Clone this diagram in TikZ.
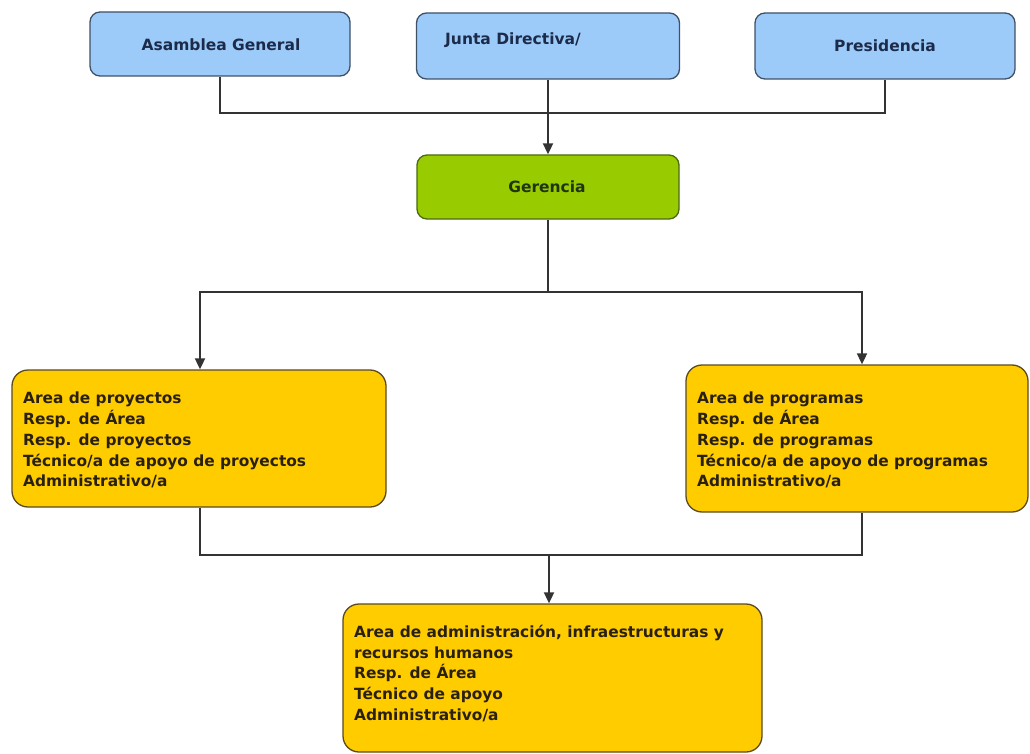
\documentclass[tikz,border=0pt]{standalone}
\usepackage{fontspec}
\setmainfont{DejaVu Sans}
\usetikzlibrary{arrows.meta,calc}
\definecolor{bluefill}{HTML}{9DCBF9}
\definecolor{blueline}{HTML}{3E5166}
\definecolor{bluetext}{HTML}{1C2B4A}
\definecolor{greenfill}{HTML}{99CC00}
\definecolor{greenline}{HTML}{4A6A10}
\definecolor{greentext}{HTML}{1F3410}
\definecolor{yellowfill}{HTML}{FFCC00}
\definecolor{yellowline}{HTML}{5A4A20}
\definecolor{yellowtext}{HTML}{2A2010}
\definecolor{connector}{HTML}{333333}
\tikzset{
  box/.style={rectangle, rounded corners=10pt, line width=1.3pt, inner sep=0pt},
  topbox/.style={box, draw=blueline, fill=bluefill},
  gerbox/.style={box, draw=greenline, fill=greenfill},
  areabox/.style={box, draw=yellowline, fill=yellowfill, rounded corners=16pt},
  label/.style={font=\bfseries\fontsize{15.5}{18}\selectfont, inner sep=0pt},
  arealabel/.style={font=\bfseries\fontsize{15.4}{20.7}\selectfont, text=yellowtext, align=left, inner sep=0pt, anchor=north west},
  conn/.style={draw=connector, line width=1.8pt},
  arr/.style={conn, -{Triangle[length=11pt,width=10pt]}}
}
\begin{document}
\begin{tikzpicture}[x=1pt,y=-1pt]
\useasboundingbox (0,0) rectangle (1030,754);
% top boxes
\node[topbox, minimum width=260pt, minimum height=64pt] (asam) at (220,44) {};
\node[topbox, minimum width=263pt, minimum height=66pt] (junta) at (548,46) {};
\node[topbox, minimum width=260pt, minimum height=66pt] (pres) at (885,46) {};
\node[label, text=bluetext] (asamt) at (221,45) {Asamblea General};
\node[label, text=bluetext] (juntat) at (513,40) {Junta Directiva/};
\node[label, text=bluetext] (prest) at (885,46) {Presidencia};
% gerencia
\node[gerbox, minimum width=262pt, minimum height=64pt] (ger) at (548,187) {};
\node[label, text=greentext] (gert) at (547,187) {Gerencia};
% area boxes
\node[areabox, minimum width=374pt, minimum height=137pt] (proj) at (199,438.5) {};
\node[areabox, minimum width=342pt, minimum height=147pt] (prog) at (857,438.5) {};
\node[areabox, minimum width=419pt, minimum height=148pt] (admin) at (552.5,678) {};
\node[arealabel] (projt) at (23,392) {Area de proyectos\\Resp. de Área\\Resp. de proyectos\\Técnico/a de apoyo de proyectos\\Administrativo/a};
\node[arealabel] (progt) at (697,392) {Area de programas\\Resp. de Área\\Resp. de programas\\Técnico/a de apoyo de programas\\Administrativo/a};
\node[arealabel] (admint) at (354,625) {Area de administración, infraestructuras y\\recursos humanos\\Resp. de Área\\Técnico de apoyo\\Administrativo/a};
% connectors top
\coordinate (topjoin) at (548,113);
\draw[conn] (asam.south) |- (topjoin) -| (pres.south);
\draw[arr] (junta.south) -- (ger.north);
% gerencia split
\coordinate (gsplit) at (548,292);
\draw[conn] (ger.south) -- (gsplit);
\draw[arr] (gsplit) -| ([xshift=1pt]proj.north);
\draw[arr] (gsplit) -| ([xshift=5pt]prog.north);
% bottom join
\coordinate (bjoin) at (549,555);
\draw[conn] ([xshift=1pt]proj.south) |- (bjoin);
\draw[conn] ([xshift=5pt]prog.south) |- (bjoin);
\draw[arr] (bjoin) -- ([xshift=-3.5pt]admin.north);
\end{tikzpicture}
\end{document}
